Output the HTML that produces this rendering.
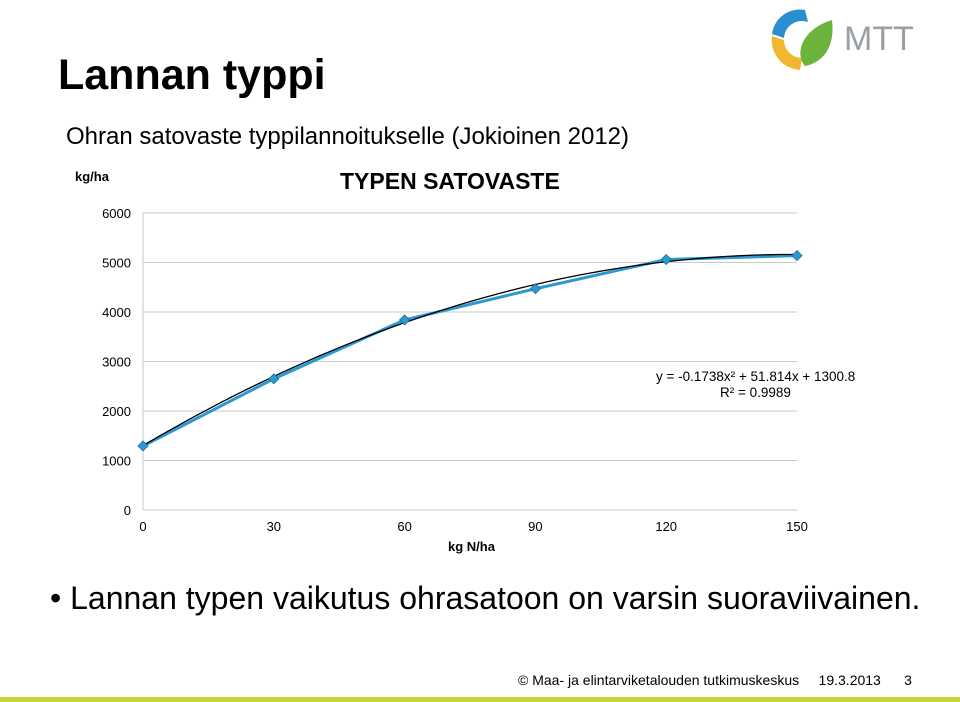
<!DOCTYPE html>
<html><head><meta charset="utf-8"><style>
body{margin:0;width:960px;height:702px;background:#fff;font-family:"Liberation Sans",Arial,sans-serif;position:relative;overflow:hidden}
.a{position:absolute;white-space:nowrap}
</style></head><body>
<div class="a" style="left:58px;top:51px;font-size:43px;font-weight:bold;color:#000">Lannan typpi</div>
<div class="a" style="left:66px;top:123px;font-size:24px;color:#000">Ohran satovaste typpilannoitukselle (Jokioinen 2012)</div>
<svg class="a" style="left:760px;top:0" width="200" height="80">
<path d="M805 10 A28 28 0 0 0 772 34 L784 38 A18 18 0 0 1 808 22 Z" transform="translate(-760,0)" fill="#2a8fd0"/>
<path d="M772 36 A30 30 0 0 0 800 70 L802 58 A18 18 0 0 1 784 40 Z" transform="translate(-760,0)" fill="#f2b630"/>
<path d="M832 20 C800 30 795 55 805 66 C825 62 835 45 832 20 Z" transform="translate(-760,0)" fill="#6bb33a"/>
<text x="84" y="50" font-size="34" fill="#9aa0a6" font-family="Liberation Sans">MTT</text>
</svg>
<svg class="a" style="left:0;top:0" width="960" height="560" id="chart">
<text x="75" y="181" font-size="13" font-weight="bold">kg/ha</text>
<text x="340" y="189" font-size="23" font-weight="bold">TYPEN SATOVASTE</text>
<text x="448" y="551" font-size="13" font-weight="bold">kg N/ha</text>
<text x="656" y="381" font-size="13.5">y = -0.1738x² + 51.814x + 1300.8</text>
<text x="720" y="397" font-size="13.5">R² = 0.9989</text>
<g id="g"></g>
</svg>
<div class="a" style="left:50px;top:580px;font-size:32px;color:#000">• Lannan typen vaikutus ohrasatoon on varsin suoraviivainen.</div>
<div class="a" style="left:518px;top:672px;font-size:14px;color:#000">© Maa- ja elintarviketalouden tutkimuskeskus&nbsp;&nbsp;&nbsp;&nbsp;&nbsp;19.3.2013&nbsp;&nbsp;&nbsp;&nbsp;&nbsp;&nbsp;3</div>
<div class="a" style="left:0;top:697px;width:960px;height:5px;background:#c5d42e"></div>
<script>
const xVals=[0,30,60,90,120,150];
const yVals=[1293,2650,3840,4470,5060,5140];
const yTicks=[0,1000,2000,3000,4000,5000,6000];
const xTicks=[0,30,60,90,120,150];
const coef=[-0.1738,51.814,1300.8];
const NS="http://www.w3.org/2000/svg",g=document.getElementById('g');
const X=v=>143+v/150*654, Y=v=>510-v/6000*297;
function el(t,a){const e=document.createElementNS(NS,t);for(const k in a)e.setAttribute(k,a[k]);g.appendChild(e);return e;}
yTicks.forEach(t=>{const l=el('line',{x1:143,x2:797,y1:Y(t),y2:Y(t),stroke:'#c8c8c8','stroke-width':1});


const tx=el('text',{x:131,y:Y(t)+5,'font-size':13,'text-anchor':'end'});tx.textContent=t;

});
el('line',{x1:143,x2:143,y1:Y(6000),y2:Y(0),stroke:'#c8c8c8'});
xTicks.forEach(t=>{const tx=el('text',{x:X(t),y:531,'font-size':13,'text-anchor':'middle'});tx.textContent=t;

});
const p=el('polyline',{points:xVals.map((x,i)=>X(x)+','+Y(yVals[i])).join(' '),fill:'none',stroke:'#2c9ad0','stroke-width':3});


let pts=[];for(let x=0;x<=150;x+=2)pts.push(X(x)+','+Y(coef[0]*x*x+coef[1]*x+coef[2]));
const tr=el('polyline',{points:pts.join(' '),fill:'none',stroke:'#000','stroke-width':1.3});


xVals.forEach((x,i)=>{const cx=X(x),cy=Y(yVals[i]);const m=el('polygon',{points:`${cx},${cy-5} ${cx+5},${cy} ${cx},${cy+5} ${cx-5},${cy}`,fill:'#2c9ad0',stroke:'#1a6f9e','stroke-width':0.8});

});
</script>
</body></html>
